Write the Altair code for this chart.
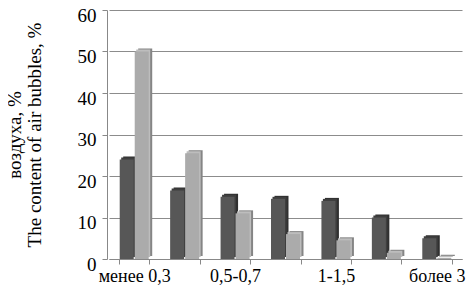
import altair as alt
import pandas as pd

categories = ["менее 0,3", "0,3-0,5", "0,5-0,7", "0,7-1", "1-1,5", "1,5-3", "более 3"]
shown_labels = ["менее 0,3", "0,5-0,7", "1-1,5", "более 3"]
series1 = [24, 16.5, 15, 14.5, 14, 10, 5]
series2 = [50, 25.5, 11, 6, 4.5, 1.5, 0.3]
y_ticks = [0, 10, 20, 30, 40, 50, 60]
y_title = ["воздуха, %", "The content of air bubbles, %"]

df1 = pd.DataFrame({"cat": categories, "value": series1})
df2 = pd.DataFrame({"cat": categories, "value": series2})

label_list = "[" + ",".join("'" + s + "'" for s in shown_labels) + "]"

x_enc = alt.X(
    "cat:N", sort=categories,
    scale=alt.Scale(range=[2, 355], paddingInner=0.4, paddingOuter=0.2),
    axis=alt.Axis(
        title=None, labelAngle=0, tickBand="extent", tickSize=5, labelFontSize=18,
        tickColor="#888888", domainColor="#888888", labelPadding=3,
        labelExpr="indexof(" + label_list + ", datum.value) >= 0 ? datum.label : ''",
    ),
)
y_enc = alt.Y(
    "value:Q", scale=alt.Scale(domain=[0, 60]),
    axis=alt.Axis(
        values=y_ticks, title=y_title, tickSize=5, tickColor="#888888",
        domainColor="#888888", gridColor="#8c8c8c", gridWidth=1.2,
        labelPadding=6, labelOffset=5, titlePadding=33, titleFontWeight="normal",
        titleFontSize=19, titleLineHeight=20,
    ),
)

W = 14
def bars(df, shift, front_col, side_col, top_col):
    side = alt.Chart(df).mark_bar(
        width=W, xOffset=shift + 3.5, yOffset=-3, y2Offset=-3, color=side_col
    ).encode(x=x_enc, y=y_enc)
    top = alt.Chart(df).mark_bar(
        width=W, xOffset=shift + 1.5, yOffset=-2, y2Offset=-2, color=top_col
    ).encode(x=x_enc, y=y_enc)
    front = alt.Chart(df).mark_bar(
        width=W, xOffset=shift, color=front_col
    ).encode(x=x_enc, y=y_enc)
    return [side, top, front]

layers = bars(df1, -7.5, "#575757", "#303030", "#3e3e3e") + \
         bars(df2, 7.5, "#ababab", "#858585", "#bdbdbd")

chart = alt.layer(*layers).properties(
    width=358, height=249,
    autosize=alt.AutoSizeParams(type="none"),
    padding={"left": 99, "top": 2, "right": 1, "bottom": 28},
).configure(font="Liberation Serif").configure_axis(
    labelFont="Liberation Serif", labelFontSize=19, labelColor="black",
    titleFont="Liberation Serif", titleColor="black", grid=True,
).configure_axisX(grid=False).configure_view(stroke=None)

chart.save("out.html", embed_options={"renderer": "svg", "actions": False})
